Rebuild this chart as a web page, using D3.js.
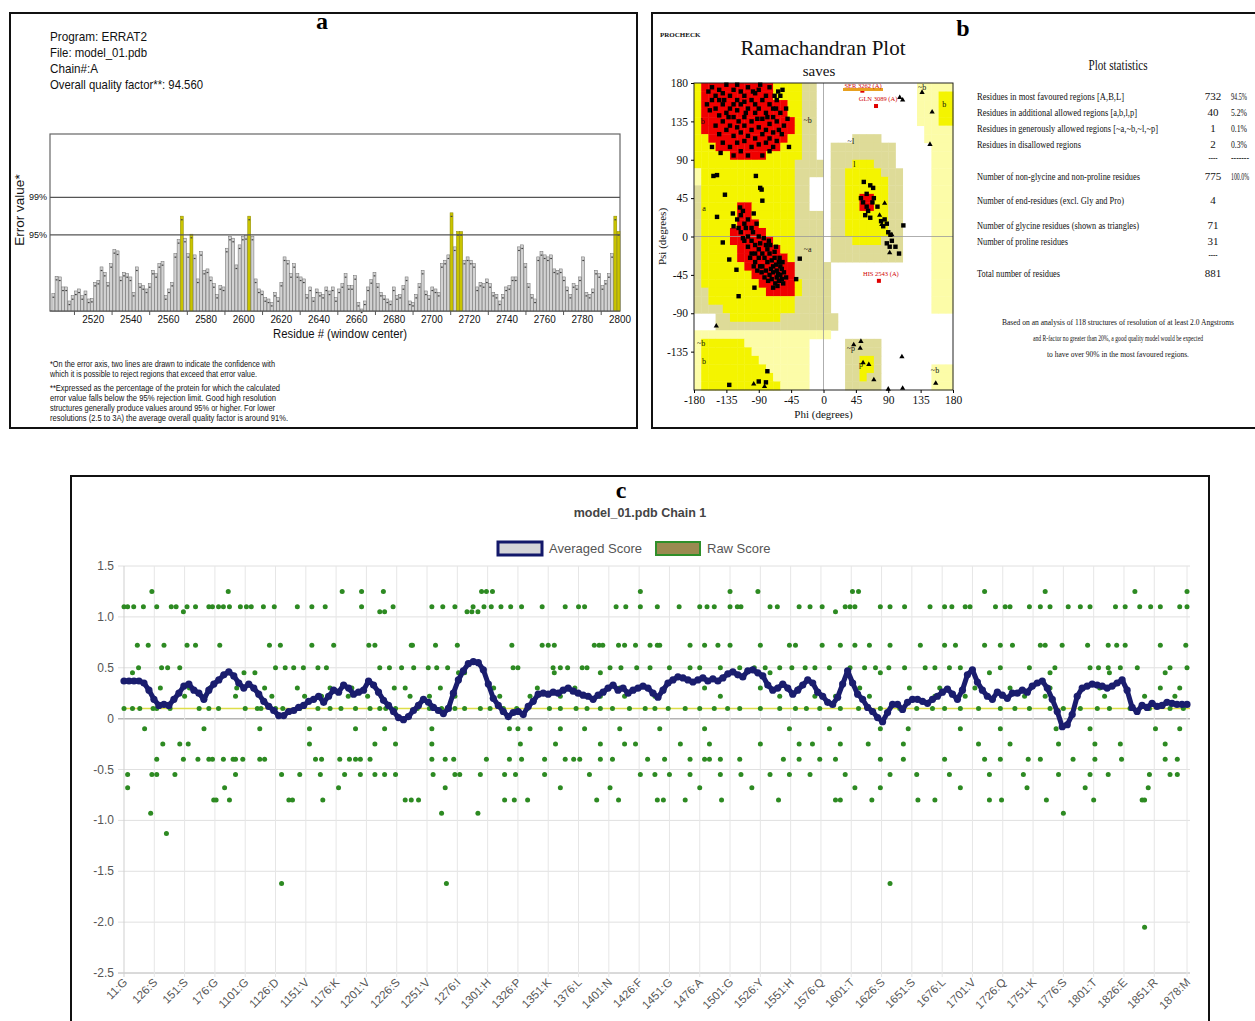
<!DOCTYPE html>
<html lang="en">
<head>
<meta charset="utf-8">
<title>Model validation: ERRAT2, PROCHECK, Verify3D</title>
<script src="https://cdn.jsdelivr.net/npm/d3@7/dist/d3.min.js"></script>
<style>
  body { margin: 0; background: #fff; }
  svg { display: block; font-family: "Liberation Sans", Arial, sans-serif; }
  .serif { font-family: "Liberation Serif", "Times New Roman", serif; }
  .frame { fill: none; stroke: #111; stroke-width: 2; }
  .letter { font-family: "Liberation Serif", serif; font-weight: bold; font-size: 24px; }
</style>
</head>
<body>
<svg id="fig" width="1255" height="1021"></svg>
<script>
// ================= DATA =================

// --- panel a : ERRAT2 ---
const errHeader = ["Program: ERRAT2", "File: model_01.pdb", "Chain#:A", "Overall quality factor**: 94.560"]
const errLimit95 = 11.4
const errLimit99 = 17.0
const errFirstRes = 2498
const errLastRes = 2800
const errTicks = [2520, 2540, 2560, 2580, 2600, 2620, 2640, 2660, 2680, 2700, 2720, 2740, 2760, 2780, 2800]
const errValues = [
  2.6, 5.2, 5.1, 3.6, 3.6, 1.5, 2.3, 3.0, 3.3, 2.3,
  3.0, 1.8, 1.9, 4.3, 4.6, 6.6, 5.8, 4.3, 7.1, 9.2,
  9.0, 5.1, 5.8, 5.6, 5.1, 2.8, 6.6, 4.1, 3.8, 3.3,
  4.1, 6.1, 5.6, 7.1, 7.4, 2.3, 3.3, 4.3, 8.6, 10.7,
  14.2, 10.9, 8.6, 11.5, 8.4, 4.8, 8.9, 6.1, 6.3, 5.1,
  4.1, 2.5, 3.8, 3.6, 9.4, 11.2, 10.9, 6.9, 9.9, 11.2,
  11.3, 14.2, 11.2, 4.8, 3.3, 3.0, 2.0, 1.8, 1.3, 2.8,
  2.0, 4.3, 8.1, 7.6, 5.6, 7.1, 5.6, 5.1, 4.8, 2.5,
  3.6, 2.0, 3.3, 2.8, 2.5, 3.6, 3.0,
  3.6, 2.0, 3.3, 4.1, 5.6, 3.8, 3.8, 5.3, 1.3, 0.3,
  1.5, 3.6, 4.7, 5.8, 4.1, 2.8, 2.3, 1.8, 1.5, 3.6,
  2.3, 2.5, 3.8, 5.1, 1.5, 1.3, 2.5, 4.1, 6.1, 3.0,
  2.3, 3.6, 3.3, 2.8, 7.1, 7.6, 8.4, 14.7, 9.6, 11.9,
  11.9, 7.6, 8.1, 7.6, 7.1, 3.6, 4.3, 4.1, 4.8, 4.1,
  2.8, 2.5, 1.5, 2.5, 3.6, 3.8, 5.1, 5.1, 9.6, 9.9,
  7.1, 4.1, 2.5, 1.8, 8.1, 8.9, 8.4, 8.1, 8.4, 6.3,
  6.1, 6.3, 5.1, 3.6, 2.5, 4.1, 3.8, 5.1, 8.1, 2.8,
  2.5, 3.3, 6.1, 5.6, 3.8, 4.6, 5.6, 8.6, 14.2, 11.9
]
const errNotes = [
  "*On the error axis, two lines are drawn to indicate the confidence with",
  "which it is possible to reject regions that exceed that error value.",
  "**Expressed as the percentage of the protein for which the calculated",
  "error value falls below the 95% rejection limit.  Good high resolution",
  "structures generally produce values around 95% or higher.  For lower",
  "resolutions (2.5 to 3A) the average overall quality factor is around 91%."
]

// --- panel b : PROCHECK Ramachandran ---
// region map, 10 degree cells; rows from psi 180 down, columns from phi -180
// R most favoured, Y additional allowed, K generously allowed, P pale allowed, . disallowed
const ramaRegions = [
  "YRRRRRRRRRRYYYYKK..............PPPPP",
  "YRRRRRRRRRRYYYYKK..............PPPYY",
  "YRRRRRRRRRRRRYYKK..............PPPYY",
  "YRRRRRRRRRRRRYYKK..............PPPYY",
  "YRRRRRRRRRRRRRYKK..............PPPYY",
  "YRRRRRRRRRRRRRYKK...............PPPP",
  "YYRRRRRRRRRRRYYKK.....KKKK......PPPP",
  "YYYRRRRRRRRRYYYKK..KKKKKKKKK.....PPP",
  "YYYYYRRRRRYYYYYKK..KKKKKKKKK.....PPP",
  "YYYYYYYYYYYYYYKKKK.KKKYYYKKK.....PPP",
  "PYYYYYYYYYYYYYKKKK.KKYYYYYKKK....PPP",
  "PYYYYYYYYYYYYYKK...KKYYYYYYKK....PPP",
  "KYYYYYYYYYYYYYKK...KKYYYYYYKK....PPP",
  "KYYYYYYYYYYYYYKK...KKYYRRYYKK....PPP",
  "KYYYYYRRYYYYYYKK...KKYYRRYYKK....PPP",
  "KYYYYYRRYYYYYYKKKK.KKYYYYYYKK....PPP",
  "KYYYYYRRRYYYYYKKKK.KKYYYYYYKK....PPP",
  "KYYYYRRRRRYYYYKKKK.KKYYYYYYKK....PPP",
  "KYYYYRRRRRRYYYKKKK.KKKYYYYKKK....PPP",
  "KYYYYYRRRRRRYYKKKK.KKKKKKKKKK....PPP",
  "KYYYYYRRRRRRRYKKKK.KKKKKKKKKK....PPP",
  "KYYYYYYRRRRRRRKKKKK..............PPP",
  "KYYYYYYYRRRRRRKKKKK..............PPP",
  "KYYYYYYYYRRRRRYKKKK..............PPP",
  "KKYYYYYYYYRRRRYKKKK..............PPP",
  "KKYYYYYYYYYYYYKKKKK..............PPP",
  "KKKKYYYYYYYYYYKKKKK..............PPP",
  "...KKYYYYYYYKKKKKKKK................",
  "...KKKKKKKKKKKKKKKKK................",
  "PPPPPPPPPPPPPPPPPPP.................",
  "PYYYYYYPPPPPPPPP.....KKKKK..........",
  "PYYYYYYYPPPPPPPP.....KKKKK..........",
  "PYYYYYYYYPPPPPPP.....KKYYK..........",
  "PYYYYYYYYYPPPPPP.....KKYYK.......PPP",
  "PYYYYYYYYYYPPPPP.....KKYKK.......PPP",
  "PYYYYYYYYYYYPPPP.....KKKKK.......PPP"
]
const ramaRegionLabels = [["b", -168, 132], ["~b", -22, 133], ["b", 168, 152], ["~b", 137, 172], ["~l", 38, 108],
  ["l", 43, 82], ["a", -166, 30], ["~a", -22, -18], ["~b", -170, -128], ["b", -166, -150], ["~p", 38, -134],
  ["p", 52, -153], ["~b", 155, -160]]
// non-glycine residues (squares), [phi, psi]
const ramaResidues = [
  [-160,170],[-155,175],[-150,165],[-145,172],[-140,168],[-135,178],[-130,165],[-125,172],[-120,160],[-115,170],
  [-110,165],[-105,175],[-100,160],[-95,168],[-90,172],[-85,160],[-80,165],[-75,175],[-70,150],[-65,160],
  [-162,155],[-158,148],[-150,150],[-145,142],[-140,155],[-135,145],[-130,150],[-125,140],[-120,148],[-115,155],
  [-110,140],[-105,150],[-100,135],[-95,145],[-90,150],[-85,138],[-80,145],[-75,132],[-70,140],[-65,135],
  [-60,145],[-55,130],[-58,120],[-150,130],[-145,120],[-140,135],[-135,125],[-130,130],[-125,118],[-120,128],
  [-115,122],[-110,130],[-105,118],[-100,125],[-95,115],[-90,128],[-85,120],[-80,125],[-75,115],[-70,122],
  [-65,112],[-62,125],[-50,138],[-52,150],[-140,110],[-130,105],[-120,110],[-115,100],[-110,112],[-100,105],
  [-90,108],[-85,95],[-80,110],[-75,100],[-70,105],[-125,95],[-105,95],[-155,160],[-145,160],[-125,155],
  [-110,158],[-95,155],[-75,155],[-68,165],[-63,170],[-88,178],[-120,178],[-60,165],[-48,105],[-155,105],
  [-143,98],[-57,172],[-66,150],[-78,140],[-92,138],[-108,145],[-132,140],[-138,160],[-118,135],[-98,170],
  [-120,20],[-115,25],[-110,15],[-112,30],[-105,20],[-108,10],[-100,10],[-115,5],[-105,0],[-98,5],
  [-110,-5],[-100,-5],[-95,-10],[-90,0],[-88,-8],[-105,-12],[-95,-20],[-90,-15],[-85,-20],[-80,-10],
  [-82,-25],[-78,-30],[-75,-20],[-72,-28],[-70,-35],[-68,-25],[-65,-40],[-62,-30],[-60,-45],[-58,-38],
  [-85,-35],[-80,-40],[-75,-45],[-70,-42],[-65,-48],[-62,-52],[-58,-50],[-55,-42],[-67,-55],[-72,-50],
  [-90,-25],[-88,-35],[-95,-30],[-100,-20],[-92,-40],[-78,-15],[-73,-38],[-66,-33],[-63,-44],[-60,-35],
  [-77,-52],[-70,-60],[-64,-58],[-56,-55],[-82,-48],[-86,-42],[-68,-18],[-61,-25],[-57,-30],[-74,-10],
  [-118,10],[-112,-2],[-102,-25],[-97,-35],[-93,15],[-125,12],[-83,-2],[-76,-5],[-66,-12],[-52,-48],
  [-153,71],[-148,72],[-137,49],[-116,34],[-94,71],[-88,57],[-86,55],[-85,42],[-148,23],[-126,27],
  [-97,27],[-140,-7],[-131,-27],[-121,-39],[-118,-70],[-96,-60],[-33,-26],[-38,-50],
  [-131,-174],[-90,-170],[-78,-158],[-80,-171],
  [56,64],[65,60],[69,57],[55,40],[60,35],[62,30],[58,25],[65,22],[52,45],[60,50],
  [68,40],[70,45],[75,35],[80,18],[83,12],[88,15],[90,5],[85,20],[93,2],[95,-5],
  [100,-12],[105,-20],[111,13],[88,-8],[92,-12]
]
// glycine residues (triangles)
const ramaGlycines = [[106,163],[110,160],[151,146],[148,108],[137,169],[85,39],[81,14],[92,-19],[-149,-105],
  [42,-127],[52,-123],[51,-131],[55,-148],[63,-150],[70,-168],[90,-179],[110,-178],[109,-141],[156,-172],
  [-97,-173],[-82,-176],[78,25],[95,2]]
const ramaFlagged = [["SER 3262 (A)", 54, 171], ["GLN 3089 (A)", 73, 153], ["HIS 2543 (A)", 77, -52]]

const statLabels = ["Residues in most favoured regions  [A,B,L]", "Residues in additional allowed regions  [a,b,l,p]",
  "Residues in generously allowed regions  [~a,~b,~l,~p]", "Residues in disallowed regions", "",
  "Number of non-glycine and non-proline residues", "Number of end-residues (excl. Gly and Pro)",
  "Number of glycine residues (shown as triangles)", "Number of proline residues", "", "Total number of residues"]
const statCounts = ["732", "40", "1", "2", "----", "775", "4", "71", "31", "----", "881"]
const statPercents = ["94.5%", "5.2%", "0.1%", "0.3%", "-------", "100.0%", "", "", "", "", ""]
const statNote = ["Based on an analysis of 118 structures of resolution of at least 2.0 Angstroms",
  "and R-factor no greater than 20%, a good quality model would be expected",
  "to have over 90% in the most favoured regions."]

// --- panel c : Verify3D ---
const v3dTickRes = [1, 26, 51, 76, 101, 126, 151, 176, 201, 226, 251, 276, 301, 326, 351, 376, 401, 426,
  451, 476, 501, 526, 551, 576, 601, 626, 651, 676, 701, 726, 751, 776, 801, 826, 851, 878]
const v3dTickLabels = ["11:G", "126:S", "151:S", "176:G", "1101:G", "1126:D", "1151:V", "1176:K", "1201:V",
  "1226:S", "1251:V", "1276:I", "1301:H", "1326:P", "1351:K", "1376:L", "1401:N", "1426:F", "1451:G", "1476:A",
  "1501:G", "1526:Y", "1551:H", "1576:Q", "1601:T", "1626:S", "1651:S", "1676:L", "1701:V", "1726:Q", "1751:K",
  "1776:S", "1801:T", "1826:E", "1851:R", "1878:M"]
const v3dYTicks = [1.5, 1.0, 0.5, 0, -0.5, -1.0, -1.5, -2.0, -2.5]
const v3dPass = 0.1
// averaged score, samples evenly spaced from residue 1 to 878
const avgScore = [
  0.37,0.37,0.37,0.37,0.35,0.28,0.19,0.13,0.14,0.13, 0.19,0.25,0.32,0.34,0.28,0.25,0.19,0.28,0.34,0.38,
  0.43,0.46,0.42,0.35,0.30,0.34,0.30,0.24,0.17,0.12, 0.08,0.03,0.03,0.07,0.08,0.11,0.13,0.17,0.19,0.22,
  0.16,0.22,0.28,0.26,0.33,0.30,0.24,0.26,0.28,0.37, 0.33,0.26,0.18,0.13,0.07,0.01,-0.01,0.02,0.08,0.13,
  0.19,0.16,0.11,0.08,0.05,0.10,0.25,0.38,0.47,0.54, 0.56,0.55,0.48,0.34,0.20,0.13,0.07,0.02,0.06,0.07,
  0.04,0.12,0.17,0.24,0.25,0.24,0.26,0.25,0.28,0.30, 0.27,0.25,0.23,0.22,0.19,0.23,0.26,0.30,0.33,0.28,
  0.30,0.25,0.28,0.30,0.32,0.30,0.25,0.21,0.28,0.35, 0.38,0.41,0.40,0.38,0.36,0.38,0.40,0.37,0.39,0.37,
  0.40,0.44,0.46,0.43,0.41,0.47,0.48,0.45,0.42,0.33, 0.28,0.30,0.34,0.30,0.24,0.28,0.33,0.38,0.35,0.26,
  0.22,0.16,0.14,0.21,0.34,0.47,0.35,0.24,0.19,0.11, 0.07,0.01,-0.03,0.06,0.14,0.14,0.09,0.16,0.19,0.19,
  0.17,0.15,0.19,0.22,0.26,0.29,0.24,0.19,0.28,0.43, 0.48,0.36,0.28,0.22,0.19,0.26,0.23,0.20,0.25,0.25,
  0.28,0.26,0.32,0.35,0.37,0.30,0.19,0.07,-0.08,-0.06, 0.04,0.22,0.30,0.32,0.34,0.33,0.32,0.30,0.32,0.35,
  0.38,0.28,0.11,0.07,0.13,0.11,0.15,0.12,0.13,0.16, 0.15,0.14,0.14,0.14
]
// raw scores come in discrete levels: residues that sit on each level
const rawLevels = [1.25, 1.1, 1.05, 0.72, 0.5, 0.45, 0.3, 0.22, 0.1, -0.1, -0.25, -0.4, -0.55, -0.68, -0.8, -0.93, -1.13, -1.62, -2.05]
const rawResidues = [
  [24, 87, 181, 197, 215, 296, 300, 305, 427, 501, 524, 602, 607, 711, 761, 835, 878],
  [1, 4, 9, 17, 28, 40, 44, 53, 60, 71, 74, 79, 83, 88, 97, 102, 106, 116, 125, 144, 156, 167, 197, 223, 255, 264,
   274, 289, 298, 304, 312, 320, 329, 346, 365, 376, 381, 407, 415, 427, 441, 459, 476, 482, 488, 501, 507, 510,
   534, 540, 558, 567, 577, 596, 600, 604, 625, 633, 645, 666, 678, 684, 695, 699, 720, 728, 732, 748, 757, 765,
   780, 790, 798, 819, 827, 839, 848, 856, 872, 878],
  [50, 212, 216, 284, 288, 293, 588],
  [12, 21, 34, 53, 60, 80, 121, 130, 156, 174, 203, 208, 238, 239, 258, 276, 321, 346, 351, 356, 389, 393, 396,
   409, 414, 423, 435, 441, 443, 468, 480, 491, 501, 526, 550, 555, 577, 592, 604, 616, 633, 658, 678, 687, 711,
   724, 734, 757, 761, 775, 796, 813, 820, 827, 856, 877],
  [13, 32, 37, 47, 126, 134, 141, 149, 161, 168, 212, 220, 230, 240, 252, 259, 268, 322, 326, 355, 361, 367, 379,
   383, 402, 411, 424, 435, 451, 468, 476, 493, 509, 521, 530, 542, 552, 563, 571, 583, 600, 612, 621, 632, 645,
   662, 670, 682, 691, 724, 748, 769, 798, 805, 813, 823, 837, 864, 878],
  [8, 100, 109, 277, 280, 282, 356, 394, 534, 625, 715, 765, 814, 860],
  [31, 55, 72, 94, 117, 144, 171, 189, 224, 233, 262, 306, 342, 373, 410, 447, 480, 526, 558, 608, 649, 674, 703,
   732, 765, 806, 856, 872],
  [51, 68, 93, 123, 150, 164, 186, 202, 237, 253, 274, 311, 336, 361, 394, 414, 439, 493, 542, 571, 588, 616, 670,
   695, 744, 761, 810, 843, 868],
  [1, 8, 14, 25, 28, 39, 63, 71, 79, 101, 111, 114, 126, 132, 146, 161, 171, 180, 192, 204, 212, 217, 225, 243,
   253, 263, 274, 282, 295, 303, 314, 325, 334, 352, 361, 374, 383, 394, 404, 418, 431, 439, 450, 464, 476, 488,
   499, 509, 526, 542, 555, 564, 575, 592, 607, 625, 641, 655, 668, 678, 691, 706, 724, 736, 748, 765, 776, 790,
   804, 814, 831, 847, 864, 875],
  [18, 67, 113, 154, 192, 216, 255, 319, 326, 336, 361, 381, 410, 443, 480, 550, 583, 625, 648, 691, 724, 770, 798,
   852, 872],
  [33, 47, 54, 154, 208, 225, 255, 328, 357, 394, 414, 423, 460, 484, 526, 558, 569, 592, 615, 644, 706, 732, 772,
   802, 823, 860],
  [28, 50, 62, 71, 74, 83, 91, 93, 99, 113, 117, 159, 164, 179, 187, 192, 196, 204, 255, 266, 273, 300, 319, 329,
   348, 365, 372, 377, 394, 404, 433, 447, 468, 480, 484, 493, 509, 545, 558, 575, 588, 625, 644, 678, 711, 724,
   747, 757, 784, 802, 824, 860, 870],
  [4, 24, 28, 43, 93, 131, 146, 163, 183, 196, 208, 216, 225, 256, 274, 278, 295, 315, 324, 348, 385, 427, 439, 451,
   468, 493, 510, 534, 550, 567, 596, 633, 655, 682, 715, 743, 772, 798, 813, 847, 864, 870],
  [4, 84, 178, 266, 361, 402, 476, 519, 604, 625, 691, 746, 794, 846],
  [75, 77, 88, 137, 140, 165, 233, 238, 244, 315, 323, 334, 391, 409, 441, 446, 464, 494, 541, 588, 592, 618, 656,
   670, 715, 725, 762, 801, 841, 843],
  [23, 263, 293, 776],
  [36],
  [131, 267, 633],
  [843]
]

// ================= DRAWING =================
const svg = d3.select("#fig")
svg.append("rect").attr("width", 1255).attr("height", 1021).attr("fill", "#fff")

function fitText(g, str, x, y, size, width, anchor) {
  const t = g.append("text").attr("x", x).attr("y", y).attr("font-size", size)
    .attr("text-anchor", anchor || "start").text(str)
  if (width) t.attr("textLength", width).attr("lengthAdjust", "spacingAndGlyphs")
  return t
}

// panel frames + letters
svg.append("rect").attr("class", "frame").attr("x", 10).attr("y", 13).attr("width", 627).attr("height", 415)
svg.append("rect").attr("class", "frame").attr("x", 652).attr("y", 13).attr("width", 640).attr("height", 415)
svg.append("rect").attr("class", "frame").attr("x", 71).attr("y", 476).attr("width", 1138).attr("height", 580)
svg.append("text").attr("class", "letter").attr("x", 322).attr("y", 29).attr("text-anchor", "middle").text("a")
svg.append("text").attr("class", "letter").attr("x", 963).attr("y", 36).attr("text-anchor", "middle").text("b")
svg.append("text").attr("class", "letter").attr("x", 621).attr("y", 498).attr("text-anchor", "middle").text("c")

// ---------- panel a ----------
const gA = svg.append("g").attr("fill", "#111")
const headerWidths = [97, 97, 48, 153]
errHeader.forEach((t, i) => fitText(gA, t, 50, 41 + i * 16, 13.5, headerWidths[i]))

const xA = d3.scaleLinear().domain([2497, errLastRes]).range([50, 620])
const yA = d3.scaleLinear().domain([0, 26.5]).range([311, 134])
const band = d3.scaleBand().domain(d3.range(errValues.length))
  .range([xA(errFirstRes), xA(errLastRes)]).paddingInner(0.08)

gA.append("rect").attr("x", 50).attr("y", 134).attr("width", 570).attr("height", 177)
  .attr("fill", "none").attr("stroke", "#666").attr("stroke-width", 1.2)

gA.selectAll(".errbar").data(errValues).join("rect")
  .attr("class", "errbar")
  .attr("x", (d, i) => band(i)).attr("width", band.bandwidth())
  .attr("y", d => yA(d)).attr("height", d => yA(0) - yA(d))
  .attr("fill", d => d >= errLimit95 ? "#c9c400" : "#d2d2d2")
  .attr("stroke", d => d >= errLimit95 ? "#8a8600" : "#6a6a6a").attr("stroke-width", 0.5)
gA.selectAll(".errcap").data(errValues).join("rect")
  .attr("class", "errcap")
  .attr("x", (d, i) => band(i) + band.bandwidth() * 0.2).attr("width", band.bandwidth() * 0.6)
  .attr("y", d => yA(d) + 3).attr("height", 1.2).attr("fill", "#444")

;[[errLimit99, "99%"], [errLimit95, "95%"]].forEach(([v, lab]) => {
  gA.append("line").attr("x1", 50).attr("x2", 620).attr("y1", yA(v)).attr("y2", yA(v))
    .attr("stroke", "#555").attr("stroke-width", 1.3)
  gA.append("text").attr("x", 47).attr("y", yA(v) + 3).attr("text-anchor", "end").attr("font-size", 9).text(lab)
})
gA.append("line").attr("x1", 50).attr("x2", 620).attr("y1", 311).attr("y2", 311).attr("stroke", "#555")
gA.selectAll(".minor").data(d3.range(2510, 2800, 20)).join("line").attr("class", "minor")
  .attr("x1", d => xA(d)).attr("x2", d => xA(d)).attr("y1", 311).attr("y2", 315).attr("stroke", "#555")
gA.selectAll(".errtick").data(errTicks).join("text").attr("class", "errtick")
  .attr("x", d => xA(d)).attr("y", 323).attr("text-anchor", "middle").attr("font-size", 11)
  .attr("textLength", 22).attr("lengthAdjust", "spacingAndGlyphs").text(d => d)
fitText(gA, "Residue # (window center)", 340, 338, 13.5, 134, "middle")
gA.append("text").attr("transform", "translate(24,210) rotate(-90)").attr("text-anchor", "middle")
  .attr("font-size", 13.5).text("Error value*")

const noteWidths = [225, 207, 230, 226, 225, 238]
const noteY = [367, 377, 391, 401, 411, 421]
errNotes.forEach((t, i) => fitText(gA, t, 50, noteY[i], 9, noteWidths[i]))

// ---------- panel b ----------
const gB = svg.append("g").attr("class", "serif").attr("fill", "#111")
const xR = d3.scaleLinear().domain([-180, 180]).range([694, 953])
const yR = d3.scaleLinear().domain([-180, 180]).range([390, 83])
const regionColour = { R: "#f00000", Y: "#f4f400", K: "#dedb98", P: "#fcfca8" }

gB.append("text").attr("x", 660).attr("y", 37).attr("font-size", 7).attr("font-weight", "bold").text("PROCHECK")
gB.append("text").attr("x", 823).attr("y", 55).attr("text-anchor", "middle").attr("font-size", 21).text("Ramachandran Plot")
gB.append("text").attr("x", 819).attr("y", 76).attr("text-anchor", "middle").attr("font-size", 15).text("saves")

const cells = []
ramaRegions.forEach((row, r) => {
  for (let c = 0; c < 36; c++) {
    const k = row[c]
    if (k && k !== ".") cells.push({ phi: -180 + c * 10, psi: 170 - r * 10, k })
  }
})
gB.selectAll(".cell").data(cells).join("rect").attr("class", "cell")
  .attr("x", d => xR(d.phi)).attr("y", d => yR(d.psi + 10))
  .attr("width", d => xR(d.phi + 10) - xR(d.phi) + 0.4)
  .attr("height", d => yR(d.psi) - yR(d.psi + 10) + 0.4)
  .attr("fill", d => regionColour[d.k])

gB.append("line").attr("x1", xR(0)).attr("x2", xR(0)).attr("y1", yR(-180)).attr("y2", yR(180)).attr("stroke", "#999").attr("stroke-width", 0.8)
gB.append("line").attr("x1", xR(-180)).attr("x2", xR(180)).attr("y1", yR(0)).attr("y2", yR(0)).attr("stroke", "#999").attr("stroke-width", 0.8)
gB.append("rect").attr("x", xR(-180)).attr("y", yR(180)).attr("width", xR(180) - xR(-180)).attr("height", yR(-180) - yR(180))
  .attr("fill", "none").attr("stroke", "#222").attr("stroke-width", 1)

gB.selectAll(".rlab").data(ramaRegionLabels).join("text").attr("class", "rlab")
  .attr("x", d => xR(d[1])).attr("y", d => yR(d[2])).attr("font-size", 8).attr("text-anchor", "middle").text(d => d[0])

gB.selectAll(".res").data(ramaResidues).join("rect").attr("class", "res")
  .attr("x", d => xR(d[0]) - 2.2).attr("y", d => yR(d[1]) - 2.2).attr("width", 4.4).attr("height", 4.4).attr("fill", "#000")
gB.selectAll(".gly").data(ramaGlycines).join("path").attr("class", "gly")
  .attr("transform", d => `translate(${xR(d[0])},${yR(d[1])})`)
  .attr("d", d3.symbol(d3.symbolTriangle, 12)).attr("fill", "#000")

gB.selectAll(".flag").data(ramaFlagged).join("rect").attr("class", "flag")
  .attr("x", d => xR(d[1]) - 2).attr("y", d => yR(d[2]) - 2).attr("width", 4).attr("height", 4).attr("fill", "#e00000")
gB.append("rect").attr("x", 843).attr("y", 88).attr("width", 40).attr("height", 3).attr("fill", "#e8a020")
gB.selectAll(".flagtxt").data(ramaFlagged).join("text").attr("class", "flagtxt")
  .attr("x", (d, i) => i === 0 ? 863 : xR(d[1]) + 2).attr("y", (d, i) => i === 0 ? 88 : yR(d[2]) - 5)
  .attr("text-anchor", "middle").attr("font-size", 6.5).attr("fill", "#d00000").text(d => d[0])

const yAxR = gB.append("g").attr("transform", `translate(${xR(-180)},0)`)
  .call(d3.axisLeft(yR).tickValues([180, 135, 90, 45, 0, -45, -90, -135]).tickSize(3).tickFormat(d => String(d)))
const xAxR = gB.append("g").attr("transform", `translate(0,${yR(-180)})`)
  .call(d3.axisBottom(xR).tickValues([-180, -135, -90, -45, 0, 45, 90, 135, 180]).tickSize(3).tickFormat(d => String(d)))
;[yAxR, xAxR].forEach(ax => {
  ax.attr("font-family", "Liberation Serif, serif").attr("font-size", 11.5)
  ax.select(".domain").remove()
  ax.selectAll("text").attr("fill", "#111")
})
gB.append("text").attr("transform", `translate(666,${yR(0)}) rotate(-90)`).attr("text-anchor", "middle")
  .attr("font-size", 11).text("Psi (degrees)")
gB.append("text").attr("x", xR(0)).attr("y", 418).attr("text-anchor", "middle").attr("font-size", 11).text("Phi (degrees)")

// statistics
fitText(gB, "Plot statistics", 1118, 70, 15, 59, "middle")
const statY = [100, 116, 132, 148, 164, 180, 204, 229, 245, 261, 277]
const statW = [147, 160, 181, 104, 0, 163, 147, 162, 91, 0, 83]
statLabels.forEach((t, i) => { if (t) fitText(gB, t, 977, statY[i], 11, statW[i]) })
statCounts.forEach((t, i) => fitText(gB, t, 1213, statY[i] - (t.startsWith("-") ? 3 : 0), 11, t.startsWith("-") ? 9 : null, "middle"))
statPercents.forEach((t, i) => { if (t) fitText(gB, t, 1231, statY[i] - (t.startsWith("-") ? 3 : 0), 10.5, t.length > 5 ? 18 : 16) })
const noteW = [232, 170, 142]
statNote.forEach((t, i) => fitText(gB, t, 1118, 325 + i * 16, 9, noteW[i], "middle"))

// ---------- panel c ----------
const gC = svg.append("g")
const xC = d3.scaleLinear().domain([1, 878]).range([124, 1187])
const yC = d3.scaleLinear().domain([-2.5, 1.5]).range([973, 566])

fitText(gC, "model_01.pdb Chain 1", 640, 517, 12.5, null, "middle").attr("font-weight", "bold").attr("fill", "#444")

// legend
gC.append("rect").attr("x", 498).attr("y", 542).attr("width", 44).attr("height", 13)
  .attr("fill", "#d4d4d8").attr("stroke", "#13186a").attr("stroke-width", 3)
gC.append("text").attr("x", 549).attr("y", 553).attr("font-size", 13).attr("fill", "#555").text("Averaged Score")
gC.append("rect").attr("x", 656).attr("y", 542).attr("width", 44).attr("height", 13)
  .attr("fill", "#9a8a50").attr("stroke", "#2f8f2a").attr("stroke-width", 2)
gC.append("text").attr("x", 707).attr("y", 553).attr("font-size", 13).attr("fill", "#555").text("Raw Score")

// grid
gC.selectAll(".hgrid").data(v3dYTicks).join("line").attr("class", "hgrid")
  .attr("x1", 118).attr("x2", 1190).attr("y1", d => yC(d)).attr("y2", d => yC(d))
  .attr("stroke", d => (d === 0 || d === -2.5) ? "#b4b4b4" : "#e0e0e0").attr("stroke-width", d => d === 0 ? 1.5 : 1)
gC.selectAll(".vgrid").data(v3dTickRes).join("line").attr("class", "vgrid")
  .attr("x1", d => xC(d)).attr("x2", d => xC(d)).attr("y1", yC(1.5)).attr("y2", yC(-2.5) + 4)
  .attr("stroke", (d, i) => i === 0 ? "#cfcfcf" : "#e6e6e6")
gC.selectAll(".ylab").data(v3dYTicks).join("text").attr("class", "ylab")
  .attr("x", 114).attr("y", d => yC(d) + 4).attr("text-anchor", "end").attr("font-size", 12).attr("fill", "#555")
  .text(d => d === 0 ? "0" : d.toFixed(1))
gC.selectAll(".xlab").data(v3dTickRes).join("text").attr("class", "xlab")
  .attr("transform", d => `translate(${xC(d) + 4},${yC(-2.5) + 10}) rotate(-45)`)
  .attr("text-anchor", "end").attr("font-size", 11.5).attr("fill", "#555")
  .text((d, i) => v3dTickLabels[i])

// pass threshold line
gC.append("line").attr("x1", 122).attr("x2", 1190).attr("y1", yC(v3dPass)).attr("y2", yC(v3dPass))
  .attr("stroke", "#dede4a").attr("stroke-width", 1.6)

// raw points
const rawPts = []
rawLevels.forEach((lv, i) => rawResidues[i].forEach(r => rawPts.push([r, lv])))
gC.selectAll(".raw").data(rawPts).join("circle").attr("class", "raw")
  .attr("cx", d => xC(d[0])).attr("cy", d => yC(d[1])).attr("r", 2.5).attr("fill", "#2d8a22")

// averaged line
const avgPts = avgScore.map((v, i) => [1 + i * (877 / (avgScore.length - 1)), v])
gC.append("path").datum(avgPts)
  .attr("d", d3.line().x(d => xC(d[0])).y(d => yC(d[1])))
  .attr("fill", "none").attr("stroke", "#1a1d6e").attr("stroke-width", 5).attr("stroke-linejoin", "round")
gC.selectAll(".avg").data(avgPts).join("circle").attr("class", "avg")
  .attr("cx", d => xC(d[0])).attr("cy", d => yC(d[1])).attr("r", 3.6).attr("fill", "#1a1d6e")
</script>
</body>
</html>
